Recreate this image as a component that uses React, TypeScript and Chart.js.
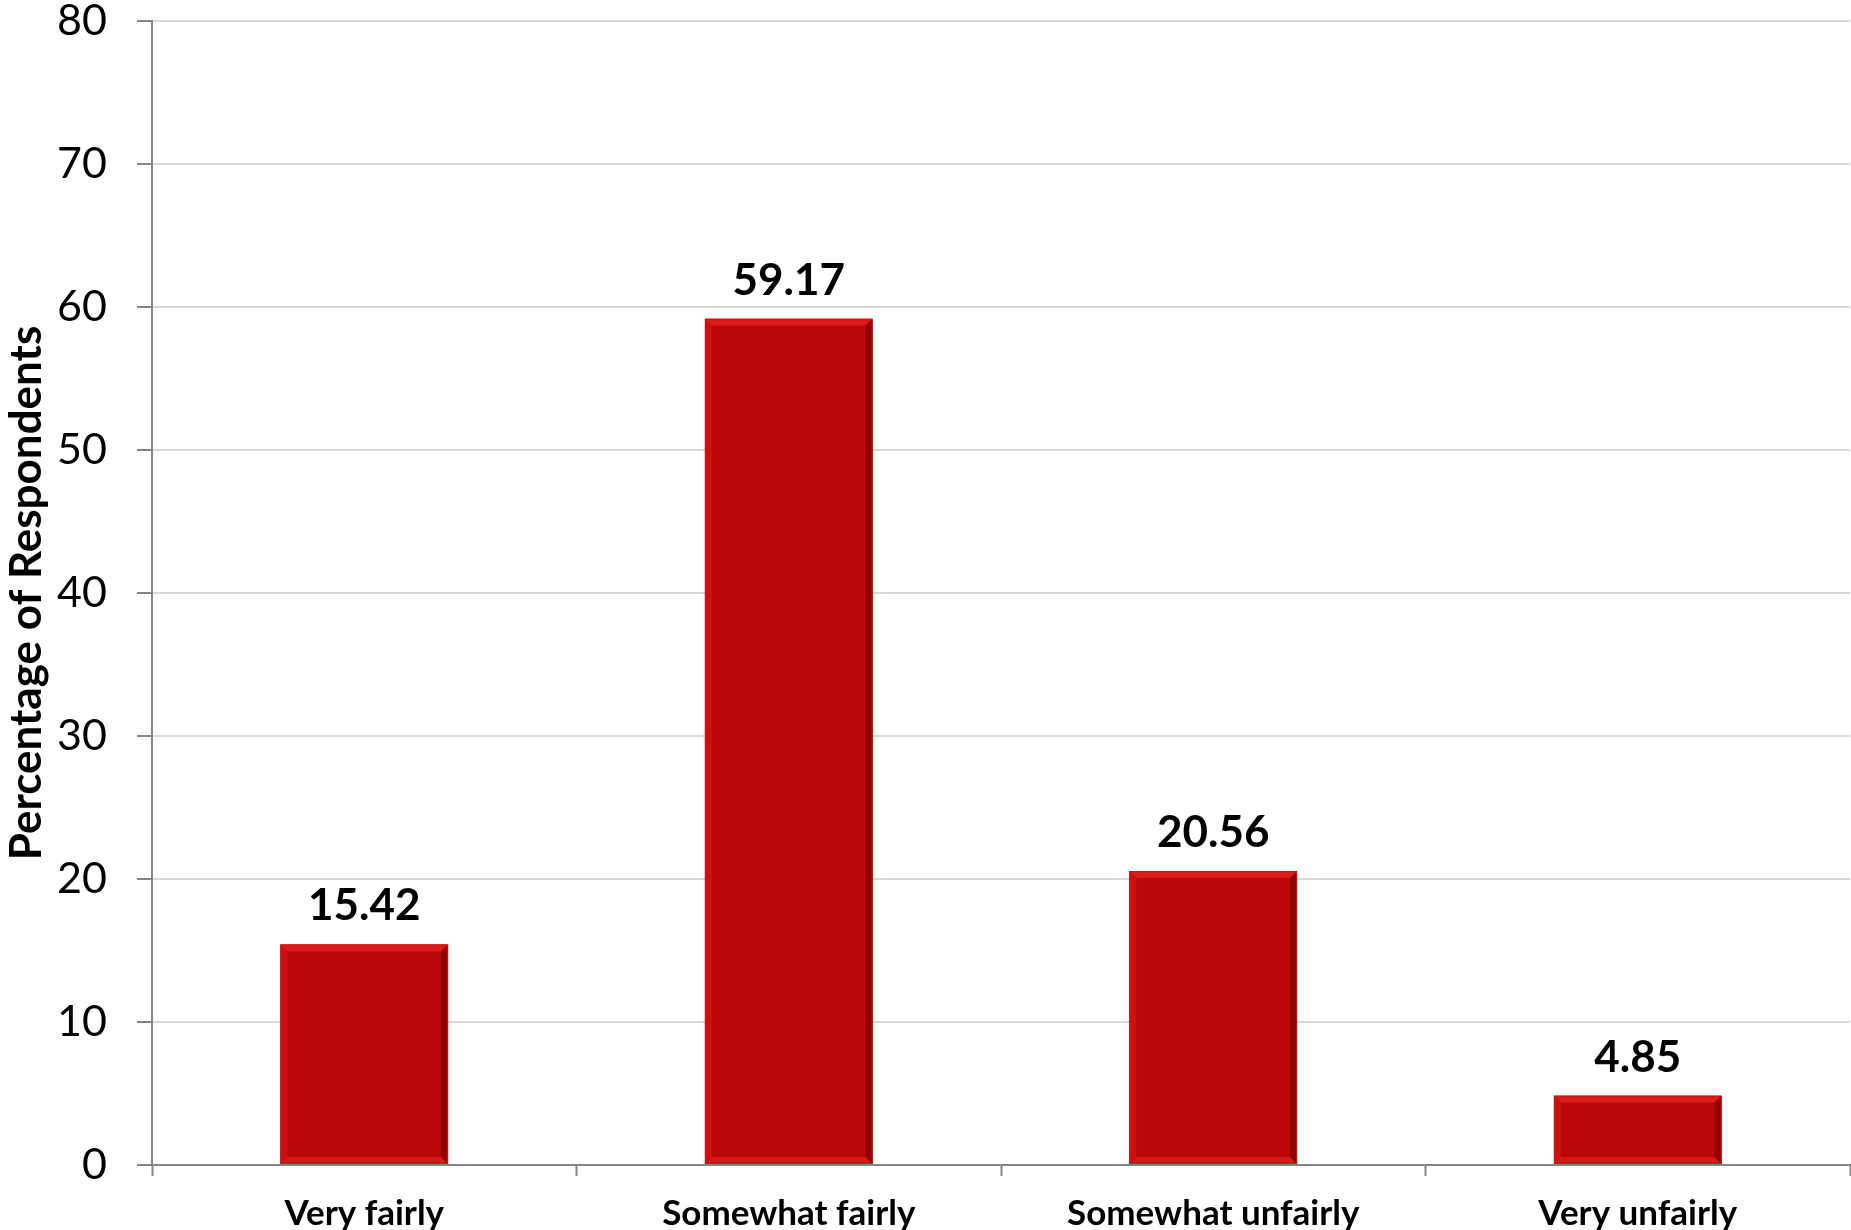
import React, { useEffect, useRef } from "react";
import { Chart, registerables } from "chart.js";

Chart.register(...registerables);

const categories = ["Very fairly", "Somewhat fairly", "Somewhat unfairly", "Very unfairly"];
const values = [15.42, 59.17, 20.56, 4.85];
const valueLabels = ["15.42", "59.17", "20.56", "4.85"];
const yTitle = "Percentage of Respondents";

const FONT = "Lato, 'Open Sans', sans-serif";

const bevelPlugin = {
  id: "bevel",
  afterDatasetsDraw(chart: any) {
    const ctx = chart.ctx;
    const meta = chart.getDatasetMeta(0);
    meta.data.forEach((bar: any) => {
      const { x, y, base, width } = bar.getProps(["x", "y", "base", "width"], true);
      const l = x - width / 2;
      const r = x + width / 2;
      const t = y;
      const b = base;
      const e = 7;
      ctx.save();
      ctx.fillStyle = "#dc1a1a";
      ctx.beginPath();
      ctx.moveTo(l, t); ctx.lineTo(r, t); ctx.lineTo(r - e, t + e); ctx.lineTo(l + e, t + e); ctx.closePath();
      ctx.fill();
      ctx.fillStyle = "#cc1010";
      ctx.beginPath();
      ctx.moveTo(l, t); ctx.lineTo(l + e, t + e); ctx.lineTo(l + e, b - e); ctx.lineTo(l, b); ctx.closePath();
      ctx.fill();
      ctx.fillStyle = "#d81818";
      ctx.beginPath();
      ctx.moveTo(l, b); ctx.lineTo(l + e, b - e); ctx.lineTo(r - e, b - e); ctx.lineTo(r, b); ctx.closePath();
      ctx.fill();
      ctx.fillStyle = "#8e0404";
      ctx.beginPath();
      ctx.moveTo(r, t); ctx.lineTo(r, b); ctx.lineTo(r - e, b - e); ctx.lineTo(r - e, t + e); ctx.closePath();
      ctx.fill();
      ctx.strokeStyle = "#c81414";
      ctx.lineWidth = 1;
      ctx.strokeRect(l + 0.5, t + 0.5, width - 1, b - t - 1);
      ctx.restore();
    });
  },
};

const valueLabelPlugin = {
  id: "valueLabels",
  afterDatasetsDraw(chart: any) {
    const ctx = chart.ctx;
    const meta = chart.getDatasetMeta(0);
    ctx.save();
    ctx.font = `bold 44px ${FONT}`;
    ctx.fillStyle = "#000000";
    ctx.textAlign = "center";
    ctx.textBaseline = "alphabetic";
    meta.data.forEach((bar: any, i: number) => {
      ctx.fillText(valueLabels[i], bar.x, bar.y - 24);
    });
    ctx.restore();
  },
};

export default function App() {
  const ref = useRef<HTMLCanvasElement | null>(null);
  useEffect(() => {
    if (!ref.current) return;
    const chart = new Chart(ref.current, {
      type: "bar",
      data: {
        labels: categories,
        datasets: [
          {
            data: values,
            backgroundColor: "#ba0808",
            borderWidth: 0,
            categoryPercentage: 1,
            barPercentage: 0.395,
          },
        ],
      },
      options: {
        animation: false,
        responsive: false,
        maintainAspectRatio: false,
        layout: { padding: { top: 21, right: 1, left: 0, bottom: 0 } },
        plugins: { legend: { display: false }, tooltip: { enabled: false } },
        scales: {
          x: {
            offset: true,
            grid: {
              offset: true,
              drawOnChartArea: false,
              drawTicks: true,
              tickLength: 11,
              tickColor: "#868686",
              tickWidth: 2,
            },
            border: { display: true, color: "#868686", width: 2 },
            ticks: {
              color: "#000000",
              font: { family: FONT, size: 35, weight: "bold" },
              padding: 17,
              maxRotation: 0,
              autoSkip: false,
            },
            afterFit(scale: any) {
              scale.height = 65;
              scale.paddingLeft = 0;
              scale.paddingRight = 0;
            },
          },
          y: {
            min: 0,
            max: 80,
            ticks: {
              stepSize: 10,
              color: "#000000",
              font: { family: FONT, size: 43 },
              padding: 30,
            },
            grid: {
              color: "#d9d9d9",
              lineWidth: 2,
              drawTicks: true,
              tickLength: 15,
              tickColor: "#868686",
              tickWidth: 2,
            },
            border: { display: true, color: "#868686", width: 2 },
            title: {
              display: true,
              text: yTitle,
              color: "#000000",
              font: { family: FONT, size: 44, weight: "bold" },
              padding: { top: 0, bottom: 0 },
            },
            afterFit(scale: any) {
              scale.width = 152;
              scale.paddingTop = 0;
              scale.paddingBottom = 0;
            },
          },
        },
      },
      plugins: [bevelPlugin, valueLabelPlugin],
    });
    return () => chart.destroy();
  }, []);
  return (
    <div style={{ position: "fixed", left: 0, top: 0, width: 1851, height: 1230, background: "#ffffff" }}>
      <canvas ref={ref} width={1851} height={1230} style={{ display: "block" }} />
    </div>
  );
}
